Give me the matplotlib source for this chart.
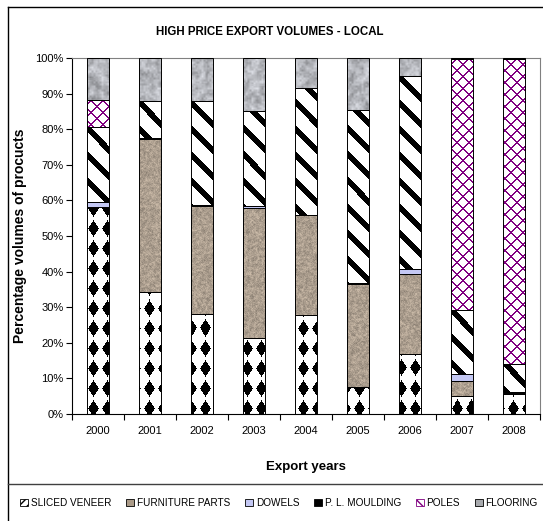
import numpy as np
import matplotlib
matplotlib.use('Agg')
import matplotlib.pyplot as plt
from matplotlib.patches import Patch
from matplotlib.lines import Line2D

plt.rcParams['font.family'] = ['Liberation Sans', 'DejaVu Sans']

# data (percent of products, bottom to top)
years = ['2000', '2001', '2002', '2003', '2004', '2005', '2006', '2007', '2008']
sliced_veneer = [58.1, 34.4, 28.2, 21.3, 27.7, 7.5, 16.9, 5.1, 5.6]
furniture_parts = [0.0, 42.8, 30.3, 36.7, 28.1, 29.0, 22.5, 4.3, 0.3]
dowels = [1.5, 0.3, 0.3, 0.4, 0.0, 0.3, 1.4, 1.9, 0.3]
pl_moulding = [21.1, 10.5, 29.2, 26.7, 35.9, 48.6, 54.2, 18.0, 7.9]
poles = [7.5, 0.0, 0.0, 0.0, 0.0, 0.0, 0.0, 70.4, 85.6]
flooring = [11.8, 12.0, 12.0, 14.9, 8.3, 14.6, 5.0, 0.3, 0.3]

labels = ['SLICED VENEER', 'FURNITURE PARTS', 'DOWELS', 'P. L. MOULDING', 'POLES', 'FLOORING']
series = [sliced_veneer, furniture_parts, dowels, pl_moulding, poles, flooring]

W, H = 543, 521
fig = plt.figure(figsize=(W / 100, H / 100), dpi=100)
ax = fig.add_axes([72 / W, 1 - 414 / H, 468 / W, 356 / H])

# ---- fill textures (pixel patterns for the plot area) ----
ph, pw = 356, 468
yy, xx = np.mgrid[0:ph, 0:pw].astype(float)


def hash2(i, j):
    v = np.sin(i * 12.9898 + j * 78.233) * 43758.5453
    return v - np.floor(v)


def value_noise(cell):
    gi = np.floor(xx / cell)
    gj = np.floor(yy / cell)
    fx = xx / cell - gi
    fy = yy / cell - gj
    a = hash2(gi, gj)
    b = hash2(gi + 1, gj)
    c = hash2(gi, gj + 1)
    d = hash2(gi + 1, gj + 1)
    return (a * (1 - fx) + b * fx) * (1 - fy) + (c * (1 - fx) + d * fx) * fy


def rgb(r, g, b):
    return np.clip(np.dstack([r, g, b]) / 255.0, 0, 1)


def mono(mask, on, off=(255, 255, 255)):
    return rgb(np.where(mask, on[0], off[0]), np.where(mask, on[1], off[1]),
               np.where(mask, on[2], off[2]))


# diamonds (sliced veneer)
dx = np.abs((xx % 14) - 7)
dy = np.abs((yy % 20) - 10)
tex_veneer = mono((dx / 5.4 + dy / 8.5) <= 1.0, (0, 0, 0))

# brown sand (furniture parts)
n1 = value_noise(2.0)
n2 = hash2(xx, yy)
br = 172 + 40 * (n1 - 0.5) + 30 * (n2 - 0.5)
tex_furn = rgb(br, br * 0.92, br * 0.83)

# diagonal stripes (moulding)
tex_mould = mono(((yy - xx) % 26) < 8, (0, 0, 0))

# purple lattice (poles)
lat = (((xx + yy) % 12) < 1.3) | (((xx - yy) % 12) < 1.3)
tex_poles = mono(lat, (128, 0, 128))

# grey granite (flooring)
g1 = value_noise(5.0)
g2 = value_noise(2.0)
gr = 178 + 60 * (g1 - 0.5) + 35 * (g2 - 0.5)
tex_floor = rgb(gr, gr * 1.01, gr * 1.04)

textures = [tex_veneer, tex_furn, None, tex_mould, tex_poles, tex_floor]
solid = [None, None, '#c4c8f4', None, None, None]

x = np.arange(len(years))
width = 0.42
ax.set_xlim(-0.5, len(years) - 0.5)
ax.set_ylim(0, 100)

bottom = np.zeros(len(years))
for vals, tex, col in zip(series, textures, solid):
    vals = np.array(vals)
    bars = ax.bar(x, vals, width, bottom=bottom, facecolor=col if col else 'none',
                  edgecolor='black', linewidth=0.7, zorder=3)
    if tex is not None:
        for b, v in zip(bars, vals):
            if v <= 0:
                continue
            im = ax.imshow(tex, extent=(-0.5, len(years) - 0.5, 0, 100), aspect='auto',
                           interpolation='nearest', zorder=2)
            im.set_clip_path(b)
    bottom += vals

ax.set_xlim(-0.5, len(years) - 0.5)
ax.set_ylim(0, 100)

# axes styling
for s in ['top', 'right']:
    ax.spines[s].set_color('#808080')
    ax.spines[s].set_linewidth(0.8)
for s in ['left', 'bottom']:
    ax.spines[s].set_color('black')
    ax.spines[s].set_linewidth(0.8)

ax.set_yticks(np.arange(0, 101, 10))
ax.set_yticklabels(['%d%%' % v for v in range(0, 101, 10)], fontsize=8)
ax.tick_params(axis='y', length=4, width=0.8, pad=2)
ax.set_xticks(x)
ax.set_xticklabels(years, fontsize=8)
ax.set_xticks(np.arange(-0.5, len(years), 1.0), minor=True)
ax.tick_params(axis='x', which='major', length=0, pad=9)
ax.tick_params(axis='x', which='minor', length=4, width=0.8)

ax.set_ylabel('Percentage volumes of procucts', fontsize=10, fontweight='bold')
ax.yaxis.set_label_coords(-0.097, 0.5)
ax.set_xlabel('Export years', fontsize=9.5, fontweight='bold')
ax.xaxis.set_label_coords(0.5, -0.132)

fig.text(270 / W, 1 - 32 / H, 'HIGH PRICE EXPORT VOLUMES - LOCAL', ha='center', va='center',
         fontsize=8.3, fontweight='bold')

# chart frame
fig.add_artist(Line2D([8 / W, 8 / W], [0, 1 - 7 / H], transform=fig.transFigure, color='black', lw=1))
fig.add_artist(Line2D([8 / W, 1], [1 - 7 / H, 1 - 7 / H], transform=fig.transFigure, color='black', lw=1))
fig.add_artist(Line2D([8 / W, 1], [1 - 484 / H, 1 - 484 / H], transform=fig.transFigure, color='#404040', lw=1))

# legend
handles = [
    Patch(facecolor='white', edgecolor='black', hatch='////', lw=0.6),
    Patch(facecolor='#ab9b88', edgecolor='black', lw=0.6),
    Patch(facecolor='#c4c8f4', edgecolor='black', lw=0.6),
    Patch(facecolor='black', edgecolor='black', lw=0.6),
    Patch(facecolor='white', edgecolor='#800080', hatch='xx', lw=0.6),
    Patch(facecolor='#a8aaae', edgecolor='black', lw=0.6),
]
fig.legend(handles, labels, loc='center', bbox_to_anchor=(279 / W, 1 - 503 / H), ncol=6,
           frameon=False, fontsize=7.2, handlelength=0.8, handleheight=0.8,
           handletextpad=0.3, columnspacing=1.45, borderaxespad=0, borderpad=0)

fig.savefig('out.png', dpi=100)
